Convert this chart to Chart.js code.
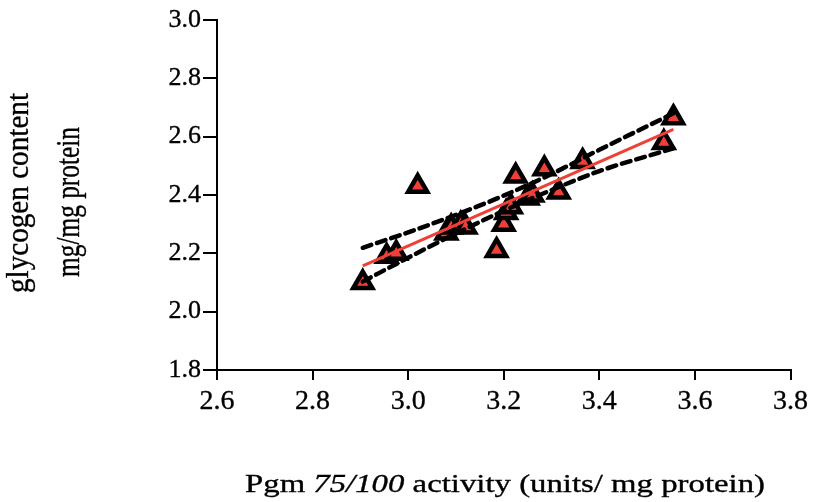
<!DOCTYPE html>
<html>
<head>
<meta charset="utf-8">
<script src="https://cdn.jsdelivr.net/npm/chart.js@4.4.0/dist/chart.umd.min.js"></script>
<style>
  html,body{margin:0;padding:0;background:#fff;}
  #wrap{width:813px;height:502px;}
</style>
</head>
<body>
<div id="wrap"><canvas id="c" width="813" height="502"></canvas></div>
<script>
// Pgm activity vs glycogen content, one triangle per sample
const pgmX = [2.905, 2.955, 2.975, 3.02, 3.08, 3.09, 3.11, 3.12, 3.185, 3.20, 3.205, 3.215, 3.225, 3.25, 3.26, 3.285, 3.315, 3.365, 3.535, 3.555];
const glycogenY = [2.10, 2.19, 2.20, 2.43, 2.27, 2.29, 2.30, 2.29, 2.21, 2.30, 2.34, 2.36, 2.465, 2.39, 2.40, 2.49, 2.41, 2.515, 2.58, 2.665];

// fitted line and its 95% band
const fitX = [2.905, 3.555];
const fitY = [2.157, 2.625];
const bandX = [2.905, 3.0, 3.1, 3.2, 3.3, 3.4, 3.555];
const bandUpper = [2.219, 2.272, 2.332, 2.398, 2.472, 2.555, 2.680];
const bandLower = [2.103, 2.185, 2.268, 2.346, 2.417, 2.482, 2.560];

const xTicks = [2.6, 2.8, 3.0, 3.2, 3.4, 3.6, 3.8];
const yTicks = [1.8, 2.0, 2.2, 2.4, 2.6, 2.8, 3.0];

const SERIF = '"Liberation Serif", "Times New Roman", serif';
const pts = (xs, ys) => xs.map((x, i) => ({x, y: ys[i]}));

// fill + thin stroke so the serif text reads a bit heavier
function inkText(ctx, t, x, y){
  ctx.fillText(t, x, y);
  ctx.strokeText(t, x, y);
}

const axisTitles = {
  id: 'axisTitles',
  afterDraw(chart){
    const ctx = chart.ctx;
    ctx.save();
    ctx.fillStyle = '#000';
    ctx.strokeStyle = '#000';
    ctx.lineWidth = 0.35;
    // x title, mixed roman/italic, widened a little
    const parts = [['Pgm ', ''], ['75/100', 'italic '], [' activity (units/ mg protein)', '']];
    let total = 0;
    parts.forEach(p => { ctx.font = p[1] + '26px ' + SERIF; p.w = ctx.measureText(p[0]).width; total += p.w; });
    const sx = 520 / total;
    ctx.save();
    ctx.translate(245, 492);
    ctx.scale(sx, 1);
    ctx.textBaseline = 'alphabetic';
    let x = 0;
    parts.forEach(p => { ctx.font = p[1] + '26px ' + SERIF; inkText(ctx, p[0], x, 0); x += p.w; });
    ctx.restore();
    // y title, two rotated lines, set tight
    ctx.textAlign = 'center';
    ctx.textBaseline = 'alphabetic';
    [['glycogen content', 32, 28, 193, 200], ['mg/mg protein', 33, 79, 202, 150]].forEach(([t, size, bx, cy, len]) => {
      ctx.font = size + 'px ' + SERIF;
      ctx.save();
      ctx.translate(bx, cy);
      ctx.rotate(-Math.PI / 2);
      const w = ctx.measureText(t).width;
      ctx.scale(len / w, 1);
      inkText(ctx, t, 0, 0);
      ctx.restore();
    });
    ctx.restore();
  }
};

new Chart(document.getElementById('c'), {
  type: 'scatter',
  data: {
    datasets: [
      {
        label: 'samples', data: pts(pgmX, glycogenY), order: 3,
        pointStyle: 'triangle', pointRadius: 11, pointHoverRadius: 11,
        backgroundColor: '#ee4036', borderColor: '#000', borderWidth: 4.5
      },
      {
        label: 'upper 95%', data: pts(bandX, bandUpper), order: 2, showLine: true,
        pointRadius: 0, borderColor: '#000', borderWidth: 4.5, borderDash: [9, 6],
        borderCapStyle: 'round', cubicInterpolationMode: 'monotone'
      },
      {
        label: 'lower 95%', data: pts(bandX, bandLower), order: 2, showLine: true,
        pointRadius: 0, borderColor: '#000', borderWidth: 4.5, borderDash: [9, 6],
        borderCapStyle: 'round', cubicInterpolationMode: 'monotone'
      },
      {
        label: 'fit', data: pts(fitX, fitY), order: 1, showLine: true,
        pointRadius: 0, borderColor: '#ee4036', borderWidth: 3
      }
    ]
  },
  options: {
    responsive: false, animation: false, devicePixelRatio: 1,
    layout: {padding: {top: 20, right: 21, left: 0, bottom: 0}},
    plugins: {legend: {display: false}, tooltip: {enabled: false}},
    scales: {
      x: {
        type: 'linear', min: 2.6, max: 3.8,
        afterFit(s){ s.height = 132; },
        afterBuildTicks(s){ s.ticks = xTicks.map(v => ({value: v})); },
        border: {display: true, color: '#000', width: 2},
        grid: {display: true, drawOnChartArea: false, drawTicks: true, tickLength: 10, color: '#000', lineWidth: 2},
        ticks: {color: '#000', padding: 5, font: {family: SERIF, size: 28}, textStrokeColor: '#000', textStrokeWidth: 0.35, callback: v => v.toFixed(1)}
      },
      y: {
        type: 'linear', min: 1.8, max: 3.0,
        afterFit(s){ s.width = 217; },
        afterBuildTicks(s){ s.ticks = yTicks.map(v => ({value: v})); },
        border: {display: true, color: '#000', width: 2},
        grid: {display: true, drawOnChartArea: false, drawTicks: true, tickLength: 14, color: '#000', lineWidth: 2},
        ticks: {color: '#000', padding: 2, font: {family: SERIF, size: 26}, textStrokeColor: '#000', textStrokeWidth: 0.35, callback: v => v.toFixed(1)}
      }
    }
  },
  plugins: [axisTitles]
});
</script>
</body>
</html>
